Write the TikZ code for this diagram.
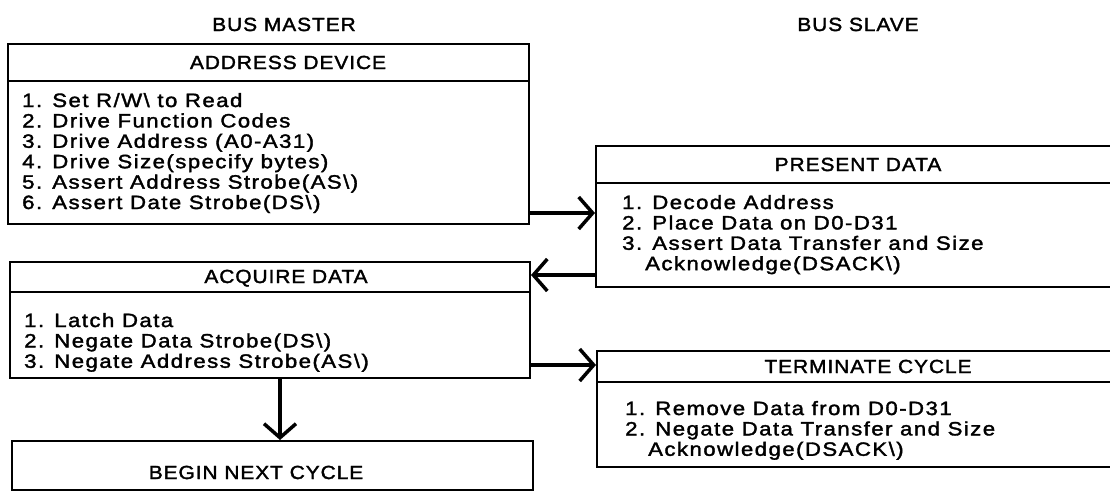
\documentclass[tikz,border=0pt]{standalone}
\usepackage{fontspec}
\setmainfont{Liberation Sans}[FakeStretch=1.1,LetterSpace=5,FakeBold=1.8]
\newfontfamily\bodyfont{Liberation Sans}[FakeStretch=1.15,LetterSpace=7.5,FakeBold=1.8]
\usetikzlibrary{arrows.meta}
\begin{document}
\begin{tikzpicture}[x=1pt,y=-1pt,
  box/.style={draw,line width=2pt,inner sep=0,anchor=north west},
  conn/.style={line width=3.5pt,-{Straight Barb[length=14pt,width=32pt,line width=3.5pt]}},
  ttl/.style={inner sep=0,anchor=base,font=\fontsize{19}{20.4}\selectfont},
  body/.style={inner sep=0,anchor=base west,font=\bodyfont\fontsize{19.3}{20.4}\selectfont}]
\useasboundingbox (0,0) rectangle (1110,491);
\clip (0,0) rectangle (1110,491);
% column labels
\node[ttl] (bm) at (284,31) {BUS MASTER};
\node[ttl] (bs) at (858,31) {BUS SLAVE};
% boxes
\node[box,minimum width=521pt,minimum height=180pt] (ad) at (7,43) {};
\node[box,minimum width=530pt,minimum height=141pt] (pd) at (595,145) {};
\node[box,minimum width=520pt,minimum height=116pt] (aq) at (9,261) {};
\node[box,minimum width=530pt,minimum height=116pt] (tc) at (596,350) {};
\node[box,minimum width=521pt,minimum height=49pt] (bn) at (11,440) {};
% header separators
\draw[line width=2pt] (ad.west |- 0,81) -- (ad.east |- 0,81);
\draw[line width=2pt] (pd.west |- 0,183) -- (pd.east |- 0,183);
\draw[line width=2pt] (aq.west |- 0,292) -- (aq.east |- 0,292);
\draw[line width=2pt] (tc.west |- 0,382) -- (tc.east |- 0,382);
% titles
\node[ttl] (adt) at (288,69) {ADDRESS DEVICE};
\node[ttl] (pdt) at (858,171) {PRESENT DATA};
\node[ttl] (aqt) at (286,283) {ACQUIRE DATA};
\node[ttl] (tct) at (868,373) {TERMINATE CYCLE};
\node[ttl] (bnt) at (256,479) {BEGIN NEXT CYCLE};
% bodies
\node[body] (adb) at (22,107) {\begin{tabular}[t]{@{}l@{}}
1. Set R/W\textbackslash{} to Read\\
2. Drive Function Codes\\
3. Drive Address (A0-A31)\\
4. Drive Size(specify bytes)\\
5. Assert Address Strobe(AS\textbackslash)\\
6. Assert Date Strobe(DS\textbackslash)
\end{tabular}};
\node[body] (pdb) at (622,209) {\begin{tabular}[t]{@{}l@{}}
1. Decode Address\\
2. Place Data on D0-D31\\
3. Assert Data Transfer and Size\\
\hspace{23pt}Acknowledge(DSACK\textbackslash)
\end{tabular}};
\node[body] (aqb) at (24,327) {\begin{tabular}[t]{@{}l@{}}
1. Latch Data\\
2. Negate Data Strobe(DS\textbackslash)\\
3. Negate Address Strobe(AS\textbackslash)
\end{tabular}};
\node[body] (tcb) at (625,415) {\begin{tabular}[t]{@{}l@{}}
1. Remove Data from D0-D31\\
2. Negate Data Transfer and Size\\
\hspace{23pt}Acknowledge(DSACK\textbackslash)
\end{tabular}};
% connectors
\draw[conn] ([yshift=12pt]ad.south east) -- ([yshift=12pt]ad.south east -| pd.west);
\draw[conn] ([yshift=13pt]pd.south west) -- ([yshift=13pt]pd.south west -| aq.east);
\draw[conn] ([yshift=14pt]aq.south east) -- ([yshift=14pt]aq.south east -| tc.west);
\draw[conn] ([xshift=10pt]aq.south) -- ([xshift=10pt]aq.south |- bn.north);
\end{tikzpicture}
\end{document}
